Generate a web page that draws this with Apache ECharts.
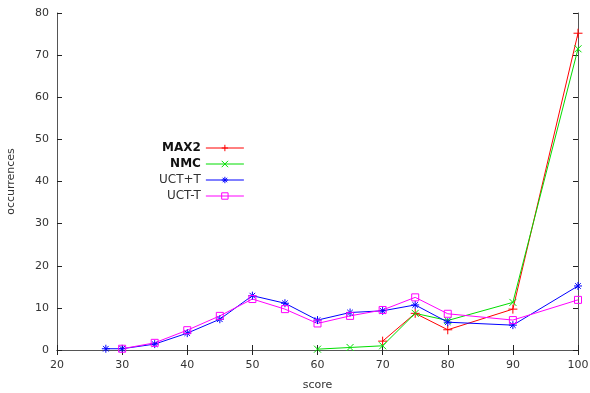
<!DOCTYPE html>
<html>
<head>
<meta charset="utf-8">
<script src="https://cdn.jsdelivr.net/npm/echarts@6/dist/echarts.min.js"></script>
<style>
  html, body { margin: 0; padding: 0; background: #fff; }
  #chart { width: 590px; height: 393px; }
</style>
</head>
<body>
<div id="chart"></div>
<script>
// values
var max2Scores = [70, 75, 80, 90, 100];
var max2Counts = [2.1, 8.7, 4.8, 9.7, 75.2];
var nmcScores = [60, 65, 70, 75, 80, 90, 100];
var nmcCounts = [0.2, 0.6, 1.0, 8.7, 7.0, 11.3, 71.5];
var uctPlusScores = [27.5, 30, 35, 40, 45, 50, 55, 60, 65, 70, 75, 80, 90, 100];
var uctPlusCounts = [0.3, 0.3, 1.4, 4.0, 7.3, 12.9, 11.1, 7.1, 8.9, 9.3, 10.7, 6.6, 5.9, 15.2];
var uctMinusScores = [30, 35, 40, 45, 50, 55, 60, 65, 70, 75, 80, 90, 100];
var uctMinusCounts = [0.3, 1.7, 4.7, 8.1, 12.1, 9.7, 6.3, 8.1, 9.5, 12.5, 8.6, 7.1, 11.9];
var xTicks = [20, 30, 40, 50, 60, 70, 80, 90, 100];
var yTicks = [0, 10, 20, 30, 40, 50, 60, 70, 80];

function pairs(xs, ys) {
  return xs.map(function (x, i) { return [x, ys[i]]; });
}

var plusSym = 'path://M0,5L10,5M5,0L5,10';
var crossSym = 'path://M0,0L10,10M10,0L0,10';
var starSym = 'path://M0,5L10,5M5,0L5,10M1.5,1.5L8.5,8.5M8.5,1.5L1.5,8.5';
var boxSym = 'path://M0,0L10,0L10,10L0,10Z';

function lineSeries(name, data, color, symbol, size) {
  return {
    name: name,
    type: 'line',
    data: data,
    symbol: symbol,
    symbolSize: size,
    showAllSymbol: true,
    animation: false,
    lineStyle: { color: color, width: 1 },
    itemStyle: { color: 'rgba(0,0,0,0)', borderColor: color, borderWidth: 1 }
  };
}

var axisCol = '#555';
var labelStyle = { color: '#333', fontSize: 11, fontFamily: 'DejaVu Sans' };

var myChart = echarts.init(document.getElementById('chart'));
myChart.setOption({
  animation: false,
  grid: { left: 57, right: 12, top: 13, bottom: 43, outerBoundsMode: 'none', containLabel: false },
  legend: {
    orient: 'vertical',
    left: 154,
    top: 137,
    align: 'right',
    itemWidth: 38,
    itemHeight: 8,
    itemGap: 4,
    data: ['MAX2', 'NMC', 'UCT+T', 'UCT-T'],
    lineStyle: { width: 1 },
    itemStyle: { borderWidth: 1 },
    formatter: function (name) {
      return (name === 'MAX2' || name === 'NMC') ? '{b|' + name + '}' : '{n|' + name + '}';
    },
    textStyle: {
      rich: {
        b: { fontSize: 12, fontWeight: 'bold', color: '#111', fontFamily: 'DejaVu Sans' },
        n: { fontSize: 12, color: '#333', fontFamily: 'DejaVu Sans' }
      }
    }
  },
  xAxis: [{
    type: 'value', min: 20, max: 100, interval: 10,
    name: 'score', nameLocation: 'middle', nameGap: 30,
    nameTextStyle: labelStyle,
    axisLine: { lineStyle: { color: axisCol } },
    axisTick: { inside: true, length: 5, lineStyle: { color: '#222' } },
    axisLabel: Object.assign({ margin: 10 }, labelStyle),
    splitLine: { show: false }
  }, {
    type: 'value', min: 20, max: 100, interval: 10, position: 'top',
    axisLine: { show: true, lineStyle: { color: axisCol } },
    axisTick: { inside: true, length: 5, lineStyle: { color: '#222' } },
    axisLabel: { show: false },
    splitLine: { show: false }
  }],
  yAxis: [{
    type: 'value', min: 0, max: 80, interval: 10,
    name: 'occurrences', nameLocation: 'middle', nameGap: 40,
    nameTextStyle: labelStyle,
    axisLine: { show: true, lineStyle: { color: axisCol } },
    axisTick: { show: true, inside: true, length: 5, lineStyle: { color: '#222' } },
    axisLabel: Object.assign({ margin: 8 }, labelStyle),
    splitLine: { show: false }
  }, {
    type: 'value', min: 0, max: 80, interval: 10, position: 'right',
    axisLine: { show: true, lineStyle: { color: axisCol } },
    axisTick: { show: true, inside: true, length: 5, lineStyle: { color: '#222' } },
    axisLabel: { show: false },
    splitLine: { show: false }
  }],
  series: [
    lineSeries('MAX2', pairs(max2Scores, max2Counts), '#ff0000', plusSym, 9),
    lineSeries('NMC', pairs(nmcScores, nmcCounts), '#00dd00', crossSym, 7),
    lineSeries('UCT+T', pairs(uctPlusScores, uctPlusCounts), '#0000ff', starSym, 8),
    lineSeries('UCT-T', pairs(uctMinusScores, uctMinusCounts), '#ff00ff', boxSym, 7)
  ]
});
</script>
</body>
</html>
